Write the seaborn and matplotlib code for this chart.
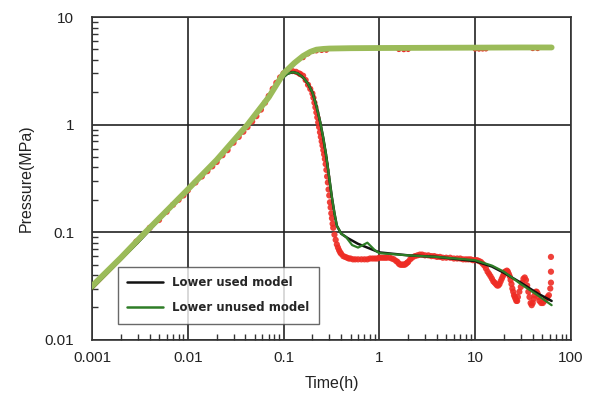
import numpy as np
import pandas as pd
import matplotlib
matplotlib.use("Agg")
import matplotlib.pyplot as plt
import seaborn as sns
from matplotlib.ticker import LogLocator, NullFormatter, FixedLocator, FixedFormatter
from matplotlib.lines import Line2D

# ---- data ----
# pressure (measured, light green thick curve)
p_time = [0.001, 0.002, 0.0036, 0.006, 0.01, 0.02, 0.042, 0.07, 0.1, 0.13, 0.16, 0.19, 0.22, 0.26,
          0.3, 0.5, 1, 3, 10, 30, 63]
p_val = [0.0316, 0.058, 0.1, 0.158, 0.25, 0.47, 1.0, 1.8, 3.0, 3.75, 4.35, 4.75, 4.98, 5.06,
         5.1, 5.14, 5.16, 5.18, 5.2, 5.22, 5.22]

# early pressure model (orange)
o_time = [0.001, 0.002, 0.0036, 0.006, 0.01, 0.02]
o_val = [0.03, 0.056, 0.098, 0.155, 0.245, 0.46]

# pressure data points showing under the green curve (red dashes)
pd_time = [0.16, 0.18, 0.2, 0.22, 0.25, 0.28, 1.6, 1.8, 2.0, 10, 11, 12, 13, 40, 45]
pd_val = [4.2, 4.55, 4.8, 4.85, 4.9, 4.92, 5.0, 4.98, 5.0, 5.05, 5.04, 5.05, 5.06, 5.1, 5.1]

# derivative data (red dots)
d_time = [0.0029, 0.004, 0.005, 0.006, 0.007, 0.008, 0.009, 0.01, 0.012, 0.014,
          0.016, 0.018, 0.02, 0.023, 0.026, 0.03, 0.034, 0.038, 0.042, 0.047,
          0.052, 0.058, 0.064, 0.07, 0.077, 0.084, 0.092, 0.1, 0.108, 0.116,
          0.124, 0.135, 0.145, 0.15, 0.16, 0.17, 0.18, 0.19, 0.2, 0.205,
          0.21, 0.215, 0.22, 0.225, 0.23, 0.235, 0.24, 0.245, 0.25, 0.255,
          0.26, 0.265, 0.27, 0.275, 0.28, 0.285, 0.29, 0.295, 0.3, 0.305,
          0.31, 0.315, 0.32, 0.325, 0.33, 0.34, 0.35, 0.36, 0.37, 0.38,
          0.39, 0.4, 0.42, 0.44, 0.46, 0.48, 0.5, 0.53, 0.56, 0.6,
          0.65, 0.7, 0.75, 0.8, 0.85, 0.9, 0.95, 1.0, 1.05, 1.1,
          1.15, 1.2, 1.28, 1.35, 1.42, 1.5, 1.55, 1.6, 1.65, 1.7,
          1.75, 1.8, 1.85, 1.9, 1.95, 2.0, 2.1, 2.2, 2.35, 2.5,
          2.65, 2.8, 3.0, 3.25, 3.5, 3.75, 4, 4.3, 4.6, 5,
          5.5, 6, 6.5, 7, 7.5, 8, 8.5, 9, 9.5, 10,
          10.5, 11, 11.5, 12, 12.5, 13, 13.5, 14, 14.5, 15,
          15.5, 16, 16.5, 17, 17.5, 18, 18.5, 19, 19.5, 20,
          20.5, 21, 21.5, 22, 22.5, 23, 23.5, 24, 24.5, 25,
          25.5, 26, 26.5, 27, 27.5, 28, 29, 30, 31, 32,
          33, 34, 35, 36, 37, 38, 39, 40, 41, 42,
          43, 44, 45, 46, 47, 49, 51, 53, 55, 57,
          59, 61, 62, 62, 62]
d_val = [0.082, 0.11, 0.13, 0.155, 0.18, 0.2, 0.22, 0.245, 0.29, 0.33,
         0.37, 0.41, 0.45, 0.52, 0.58, 0.68, 0.77, 0.86, 0.95, 1.07,
         1.2, 1.38, 1.6, 1.85, 2.15, 2.45, 2.75, 3.0, 3.1, 3.15,
         3.15, 3.1, 3.0, 2.95, 2.85, 2.6, 2.35, 2.15, 1.95, 1.78,
         1.6, 1.45, 1.3, 1.17, 1.05, 0.95, 0.85, 0.77, 0.7, 0.64,
         0.58, 0.53, 0.48, 0.43, 0.38, 0.33, 0.29, 0.25, 0.22, 0.19,
         0.17, 0.15, 0.135, 0.12, 0.11, 0.095, 0.085, 0.077, 0.072, 0.068,
         0.065, 0.063, 0.06, 0.059, 0.058, 0.057, 0.057, 0.056, 0.056, 0.056,
         0.056, 0.056, 0.056, 0.057, 0.057, 0.057, 0.057, 0.058, 0.058, 0.058,
         0.058, 0.058, 0.058, 0.057, 0.056, 0.054, 0.053, 0.051, 0.05, 0.05,
         0.05, 0.05, 0.05, 0.051, 0.052, 0.053, 0.056, 0.058, 0.06, 0.061,
         0.062, 0.062, 0.061, 0.061, 0.06, 0.06, 0.059, 0.059, 0.058, 0.058,
         0.058, 0.057, 0.057, 0.057, 0.056, 0.056, 0.056, 0.056, 0.055, 0.055,
         0.055, 0.054, 0.053, 0.051, 0.049, 0.046, 0.043, 0.041, 0.039, 0.037,
         0.035, 0.034, 0.033, 0.032, 0.032, 0.033, 0.035, 0.037, 0.039, 0.041,
         0.043, 0.043, 0.044, 0.043, 0.041, 0.039, 0.036, 0.033, 0.03, 0.028,
         0.026, 0.025, 0.024, 0.023, 0.023, 0.025, 0.028, 0.031, 0.034, 0.037,
         0.038, 0.036, 0.032, 0.028, 0.025, 0.022, 0.021, 0.022, 0.024, 0.026,
         0.028, 0.028, 0.027, 0.025, 0.023, 0.022, 0.022, 0.023, 0.024, 0.025,
         0.026, 0.03, 0.034, 0.043, 0.059]

# "Lower used model" (black)
b_time = [0.001, 0.003, 0.01, 0.03, 0.06, 0.09, 0.11, 0.125, 0.14, 0.16,
          0.18, 0.2, 0.22, 0.24, 0.26, 0.28, 0.3, 0.32, 0.34, 0.36,
          0.4, 0.47, 0.6, 1, 2, 4, 10, 15, 20, 30,
          45, 63]
b_val = [0.03, 0.08, 0.25, 0.7, 1.55, 2.55, 2.98, 3.08, 3.0, 2.75,
         2.4, 2.0, 1.5, 1.08, 0.75, 0.5, 0.32, 0.21, 0.15, 0.115,
         0.097, 0.088, 0.078, 0.065, 0.061, 0.059, 0.054, 0.048, 0.042, 0.034,
         0.027, 0.023]

# "Lower unused model" (dark green)
g_time = [0.001, 0.003, 0.01, 0.03, 0.06, 0.09, 0.11, 0.125, 0.14, 0.16,
          0.18, 0.2, 0.22, 0.24, 0.26, 0.28, 0.3, 0.32, 0.34, 0.36,
          0.4, 0.45, 0.52, 0.6, 0.75, 0.9, 1, 2, 4, 10,
          15, 20, 30, 45, 63]
g_val = [0.03, 0.08, 0.25, 0.7, 1.55, 2.55, 2.98, 3.08, 3.0, 2.75,
         2.4, 2.0, 1.5, 1.08, 0.75, 0.5, 0.32, 0.21, 0.15, 0.115,
         0.097, 0.09, 0.076, 0.072, 0.08, 0.068, 0.064, 0.061, 0.059, 0.055,
         0.049, 0.043, 0.033, 0.026, 0.021]

x_ticks = [0.001, 0.01, 0.1, 1, 10, 100]
x_labels = ["0.001", "0.01", "0.1", "1", "10", "100"]
y_ticks = [0.01, 0.1, 1, 10]
y_labels = ["0.01", "0.1", "1", "10"]

# ---- plot ----
sns.set_style("white")
plt.rcParams['font.family'] = ['Liberation Sans', 'DejaVu Sans']

fig = plt.figure(figsize=(5.94, 4.07), dpi=100)
ax = fig.add_axes([0.155, 0.165, 0.806, 0.793])
ax.set_xscale("log")
ax.set_yscale("log")

sns.lineplot(x=o_time, y=o_val, ax=ax, color="#F2A65A", linewidth=2.2, zorder=3)
sns.scatterplot(x=pd_time, y=pd_val, ax=ax, color="#E8312A", s=14, edgecolor="none", zorder=3)
sns.scatterplot(x=d_time, y=d_val, ax=ax, color="#EE2C24", s=20, edgecolor="none", alpha=0.9, zorder=4)
sns.lineplot(x=b_time, y=b_val, ax=ax, color="#111111", linewidth=1.8, zorder=5)
sns.lineplot(x=g_time, y=g_val, ax=ax, color="#2E7D27", linewidth=1.6, zorder=6)
sns.lineplot(x=p_time, y=p_val, ax=ax, color="#9BBB59", linewidth=4.2, zorder=7,
             solid_capstyle="round")

ax.set_xlim(0.001, 100)
ax.set_ylim(0.01, 10)
ax.xaxis.set_major_locator(FixedLocator(x_ticks))
ax.xaxis.set_major_formatter(FixedFormatter(x_labels))
ax.yaxis.set_major_locator(FixedLocator(y_ticks))
ax.yaxis.set_major_formatter(FixedFormatter(y_labels))
ax.xaxis.set_minor_locator(LogLocator(base=10, subs=np.arange(2, 10)))
ax.yaxis.set_minor_locator(LogLocator(base=10, subs=np.arange(2, 10)))
ax.xaxis.set_minor_formatter(NullFormatter())
ax.yaxis.set_minor_formatter(NullFormatter())

ax.grid(True, which="major", color="#222222", linewidth=1.2)
ax.tick_params(axis="x", which="major", length=0, labelsize=11, pad=8, colors="#222222")
ax.tick_params(axis="y", which="major", length=0, labelsize=11, pad=13, colors="#222222")
ax.tick_params(axis="both", which="minor", direction="in", length=4, width=1, color="#333333",
               bottom=True, left=True, top=False, right=False)
for s in ax.spines.values():
    s.set_color("#333333")
    s.set_linewidth(1.2)

ax.set_xlabel("Time(h)", fontsize=11.5, color="#222222", labelpad=8)
ax.set_ylabel("Pressure(MPa)", fontsize=11.5, color="#222222", labelpad=8)

handles = [Line2D([], [], color="#111111", linewidth=1.8),
           Line2D([], [], color="#2E7D27", linewidth=1.8)]
leg = ax.legend(handles, ["Lower used model", "Lower unused model"], loc="lower left",
                bbox_to_anchor=(0.054, 0.05), frameon=True, fancybox=False,
                prop={"family": "DejaVu Sans", "weight": "bold", "size": 8.5},
                handlelength=3.0, borderpad=0.8, labelspacing=1.0, borderaxespad=0)
leg.get_frame().set_edgecolor("#444444")
leg.get_frame().set_linewidth(1.0)
leg.set_zorder(10)

fig.savefig("out.png", dpi=100)
